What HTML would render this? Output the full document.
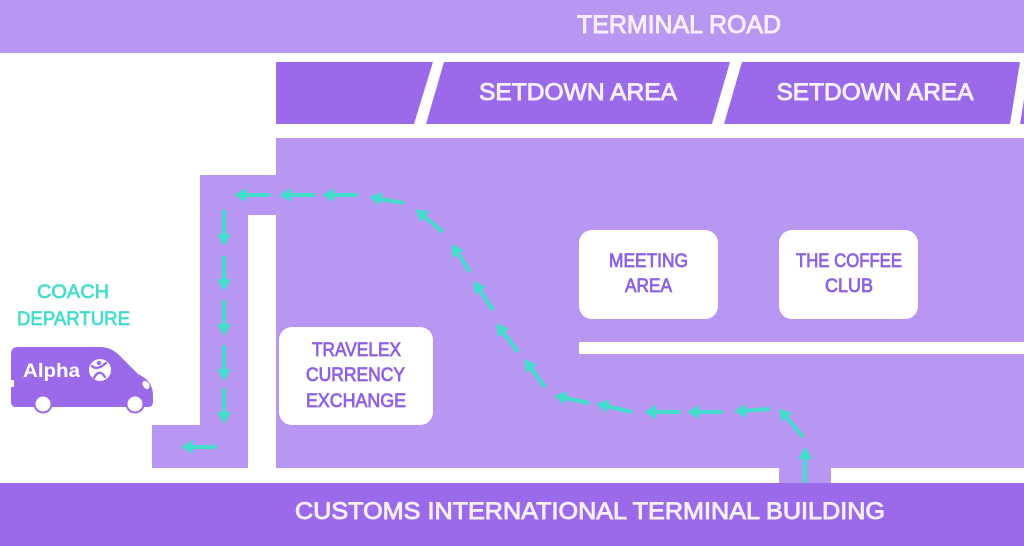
<!DOCTYPE html>
<html><head><meta charset="utf-8"><style>
html,body{margin:0;padding:0;background:#fff;}
svg{display:block;}
text{font-family:"Liberation Sans",sans-serif;}
</style></head><body>
<svg width="1024" height="546" viewBox="0 0 1024 546" xmlns="http://www.w3.org/2000/svg">
<defs>
<marker id="ah" markerUnits="userSpaceOnUse" markerWidth="15" markerHeight="15" refX="6" refY="7" orient="auto">
<path d="M0,0 L12,7 L0,14 Z" fill="#43dccd"/>
</marker>
</defs>
<rect width="1024" height="546" fill="#fff"/>
<!-- terminal road -->
<rect x="0" y="0" width="1024" height="53" fill="#b797f1"/>
<text x="679" y="33" font-size="25" fill="#f7effd" textLength="204" lengthAdjust="spacingAndGlyphs" text-anchor="middle" stroke="#f7effd" stroke-width="0.9">TERMINAL ROAD</text>
<!-- setdown strip -->
<polygon points="276,62 433,62 414,124 276,124" fill="#9b6aea"/>
<polygon points="444,62 730,62 712,124 426,124" fill="#9b6aea"/>
<polygon points="742,62 1020,62 1010,124 724,124" fill="#9b6aea"/>
<polygon points="1030,62 1040,62 1040,124 1020,124" fill="#9b6aea"/>
<text x="578" y="100" font-size="24" fill="#f7effd" textLength="198" lengthAdjust="spacingAndGlyphs" text-anchor="middle" stroke="#f7effd" stroke-width="0.9">SETDOWN AREA</text>
<text x="875" y="100" font-size="24" fill="#f7effd" textLength="197" lengthAdjust="spacingAndGlyphs" text-anchor="middle" stroke="#f7effd" stroke-width="0.9">SETDOWN AREA</text>
<!-- building -->
<rect x="276" y="138" width="748" height="330" fill="#b797f1"/>
<rect x="200" y="175" width="76" height="40" fill="#b797f1"/>
<rect x="200" y="175" width="48" height="292" fill="#b797f1"/>
<rect x="152" y="425" width="96" height="43" fill="#b797f1"/>
<rect x="779" y="466" width="52" height="18" fill="#b797f1"/>
<!-- bottom bar -->
<rect x="0" y="483" width="1024" height="63" fill="#9b6aea"/>
<text x="590" y="519" font-size="24" fill="#f7effd" textLength="590" lengthAdjust="spacingAndGlyphs" text-anchor="middle" stroke="#f7effd" stroke-width="0.9">CUSTOMS INTERNATIONAL TERMINAL BUILDING</text>
<!-- inner white bar -->
<rect x="579" y="342" width="445" height="12" fill="#fff"/>
<!-- boxes -->
<rect x="579" y="230" width="139" height="89" rx="13" fill="#fff"/>
<rect x="779" y="230" width="139" height="89" rx="13" fill="#fff"/>
<rect x="279" y="327" width="154" height="98" rx="13" fill="#fff"/>
<g fill="#8e62e3" stroke="#8e62e3" stroke-width="0.8" font-size="19" text-anchor="middle">
<text x="648.5" y="267" textLength="79" lengthAdjust="spacingAndGlyphs">MEETING</text>
<text x="648.5" y="292" textLength="47" lengthAdjust="spacingAndGlyphs">AREA</text>
<text x="849" y="267" textLength="106" lengthAdjust="spacingAndGlyphs">THE COFFEE</text>
<text x="849" y="292" textLength="48" lengthAdjust="spacingAndGlyphs">CLUB</text>
<text x="356.5" y="356" textLength="89" lengthAdjust="spacingAndGlyphs">TRAVELEX</text>
<text x="355.5" y="381" textLength="99" lengthAdjust="spacingAndGlyphs">CURRENCY</text>
<text x="356" y="407" textLength="100" lengthAdjust="spacingAndGlyphs">EXCHANGE</text>
</g>
<!-- coach departure -->
<g fill="#45dccd" stroke="#45dccd" stroke-width="0.7" font-size="19" text-anchor="middle">
<text x="73" y="298" textLength="72" lengthAdjust="spacingAndGlyphs">COACH</text>
<text x="73.5" y="325" textLength="113" lengthAdjust="spacingAndGlyphs">DEPARTURE</text>
</g>
<!-- van -->
<path d="M18,347 L100,347 Q110,347 118,354 L138,374 Q153,381 153,395 L153,402 Q153,407 148,407 L16,407 Q11,407 11,402 L11,354 Q11,347 18,347 Z" fill="#9b6aea"/>
<circle cx="43" cy="404" r="9.5" fill="#9b6aea"/>
<circle cx="43" cy="404" r="7.5" fill="#fff"/>
<circle cx="135" cy="404" r="9.5" fill="#9b6aea"/>
<circle cx="135" cy="404" r="7.5" fill="#fff"/>
<ellipse cx="146" cy="385" rx="3" ry="4.5" transform="rotate(-35 146 385)" fill="#fff"/>
<rect x="11" y="380" width="3" height="7" fill="#fff"/>
<text x="23" y="377" font-size="19" font-weight="bold" fill="#fff" textLength="57" lengthAdjust="spacingAndGlyphs">Alpha</text>
<circle cx="100" cy="370" r="11" fill="#fff"/>
<g stroke="#9b6aea" stroke-width="2.4" fill="none" stroke-linecap="round">
<circle cx="99" cy="363" r="2.2" fill="#9b6aea" stroke="none"/>
<path d="M92,366 Q97,371 106,363"/>
<path d="M94,378 Q99,368 105,377"/>
</g>
<!-- arrows -->
<g stroke="#43dccd" stroke-width="4" marker-end="url(#ah)" fill="none">
<line x1="270" y1="195" x2="240" y2="195"/>
<line x1="315" y1="195" x2="285" y2="195"/>
<line x1="358" y1="195" x2="328" y2="195"/>
<line x1="404" y1="203" x2="375" y2="198"/>
<line x1="443" y1="232" x2="420" y2="213"/>
<line x1="470" y1="272" x2="455" y2="249"/>
<line x1="493" y1="310" x2="477" y2="286"/>
<line x1="518" y1="352" x2="500" y2="328"/>
<line x1="545" y1="387" x2="528" y2="364"/>
<line x1="589" y1="403" x2="560" y2="397"/>
<line x1="632" y1="412" x2="602" y2="405"/>
<line x1="680" y1="412" x2="650" y2="412"/>
<line x1="723" y1="412" x2="693" y2="412"/>
<line x1="770" y1="409" x2="740" y2="411"/>
<line x1="803" y1="437" x2="783" y2="413"/>
<line x1="805" y1="483" x2="805" y2="453"/>
<line x1="224" y1="210" x2="224" y2="240"/>
<line x1="224" y1="256" x2="224" y2="285"/>
<line x1="224" y1="300" x2="224" y2="330"/>
<line x1="224" y1="345" x2="224" y2="375"/>
<line x1="224" y1="388" x2="224" y2="418"/>
<line x1="217" y1="447" x2="187" y2="447"/>
</g>
</svg>
</body></html>
